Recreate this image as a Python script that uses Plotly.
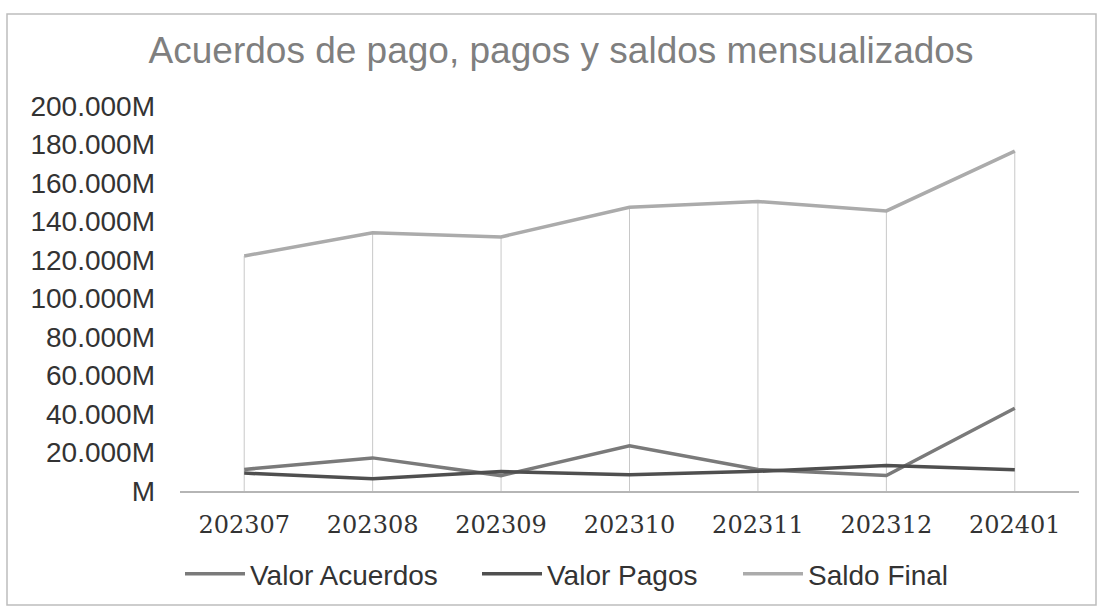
import plotly.graph_objects as go

categories = ["202307", "202308", "202309", "202310", "202311", "202312", "202401"]
# values in millions
valor_acuerdos = [11200, 17200, 8000, 23500, 11200, 8000, 43000]
valor_pagos = [9300, 6300, 10100, 8400, 10200, 13300, 11000]
saldo_final = [122100, 134200, 132000, 147400, 150400, 145500, 176600]

y_tickvals = [0, 20000, 40000, 60000, 80000, 100000, 120000, 140000, 160000, 180000, 200000]
y_ticktext = ["M", "20.000M", "40.000M", "60.000M", "80.000M", "100.000M",
              "120.000M", "140.000M", "160.000M", "180.000M", "200.000M"]

fig = go.Figure()

# drop lines from the highest series down to the axis
drop_x, drop_y = [], []
for c, v in zip(categories, saldo_final):
    drop_x += [c, c, None]
    drop_y += [0, v, None]
fig.add_trace(go.Scatter(x=drop_x, y=drop_y, mode="lines",
                         line=dict(color="#c8c8c8", width=1),
                         showlegend=False, hoverinfo="skip"))

fig.add_trace(go.Scatter(x=categories, y=valor_acuerdos, mode="lines", name="Valor Acuerdos",
                         line=dict(color="#7a7a7a", width=3.5), legend="legend"))
fig.add_trace(go.Scatter(x=categories, y=valor_pagos, mode="lines", name="Valor Pagos",
                         line=dict(color="#4f4f4f", width=3.5), legend="legend2"))
fig.add_trace(go.Scatter(x=categories, y=saldo_final, mode="lines", name="Saldo Final",
                         line=dict(color="#ababab", width=3.5), legend="legend3"))

L, R, T, B = 180, 24, 106, 117
W, H = 1103, 608
pw = W - L - R
ph = H - T - B

def px(xpix):
    return (xpix - L) / pw

def py(ypix):
    return (H - B - ypix) / ph

leg_common = dict(orientation="h", yanchor="middle", xanchor="left",
                  xref="container", yref="container",
                  itemwidth=60,
                  font=dict(family="Liberation Sans, Arial", size=28, color="#333333"),
                  bgcolor="rgba(0,0,0,0)")

fig.update_layout(
    width=W, height=H,
    margin=dict(l=L, r=R, t=T, b=B, autoexpand=False),
    paper_bgcolor="white", plot_bgcolor="white",
    title=dict(text="Acuerdos de pago, pagos y saldos mensualizados",
               x=561 / W, xref="container", xanchor="center",
               y=1 - 50 / H, yref="container", yanchor="middle",
               font=dict(family="Liberation Sans, Arial", size=37, color="#7f7f7f")),
    xaxis=dict(type="category", range=[-0.5, 6.5], showgrid=False,
               showline=True, linecolor="#b5b5b5", linewidth=1.5,
               ticks="", ticklabelstandoff=11,
               tickfont=dict(family="DejaVu Serif", size=24, color="#333333")),
    yaxis=dict(range=[0, 200000], tickvals=y_tickvals, ticktext=y_ticktext,
               showgrid=False, zeroline=False, showline=False, ticks="",
               ticklabelstandoff=24,
               tickfont=dict(family="Liberation Sans, Arial", size=28, color="#333333")),
    legend=dict(x=180 / W, y=1 - 574 / H, **leg_common),
    legend2=dict(x=477 / W, y=1 - 574 / H, **leg_common),
    legend3=dict(x=738 / W, y=1 - 574 / H, **leg_common),
    shapes=[dict(type="rect", xref="paper", yref="paper",
                 x0=px(7), x1=px(1096), y0=py(605), y1=py(14),
                 line=dict(color="#bdbdbd", width=1.5), layer="below")],
    showlegend=True,
)

fig.write_html("out.html", config={"displayModeBar": False},
               post_script="document.body.style.margin='0';")
